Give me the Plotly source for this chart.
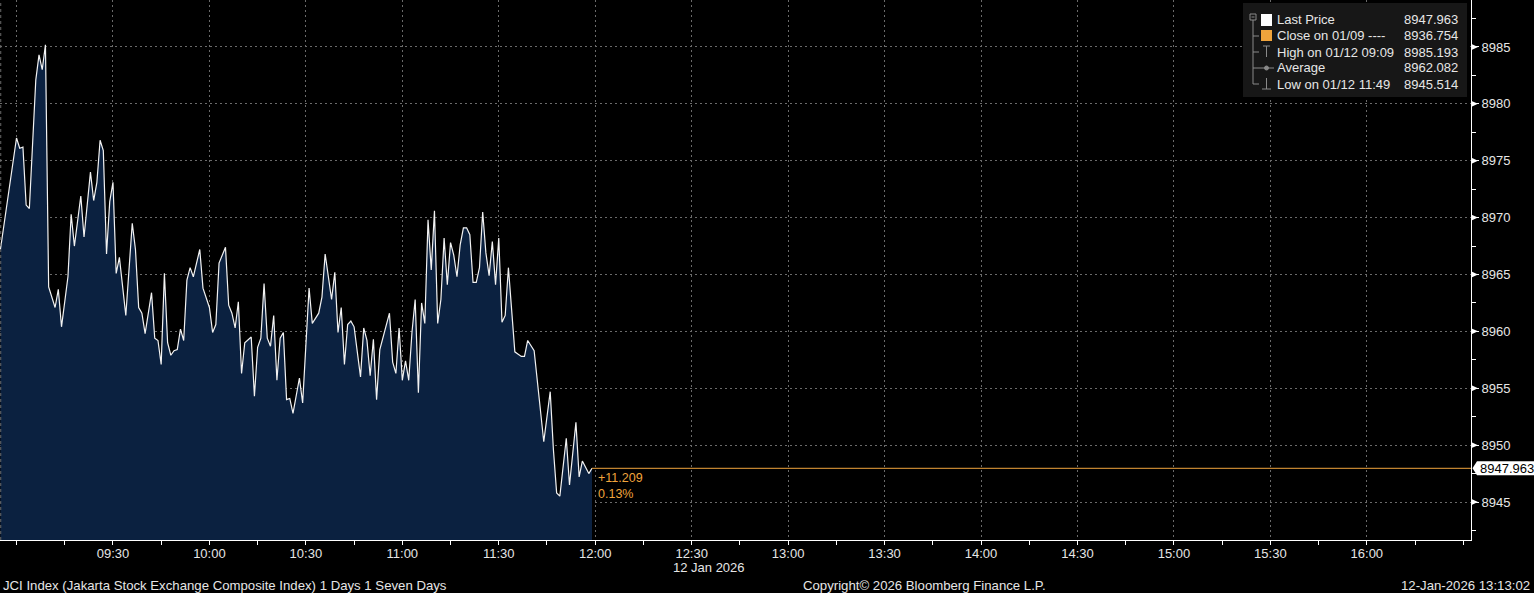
import plotly.graph_objects as go

# ---------------- data ----------------
times = ["08:55", "09:00", "09:01", "09:02", "09:03", "09:04", "09:06", "09:07", "09:08", "09:09",
         "09:10", "09:12", "09:13", "09:14", "09:16", "09:17", "09:18", "09:20", "09:21", "09:23",
         "09:24", "09:25", "09:26", "09:27", "09:28", "09:29", "09:30", "09:31", "09:32", "09:34",
         "09:36", "09:37", "09:38", "09:39", "09:40", "09:42", "09:43", "09:44", "09:45", "09:46",
         "09:47", "09:48", "09:49", "09:50", "09:51", "09:52", "09:53", "09:54", "09:55", "09:57",
         "09:58", "10:00", "10:01", "10:02", "10:03", "10:05", "10:06", "10:07", "10:08", "10:09",
         "10:10", "10:11", "10:13", "10:14", "10:15", "10:16", "10:17", "10:18", "10:19", "10:20",
         "10:21", "10:22", "10:23", "10:24", "10:25", "10:26", "10:28", "10:29", "10:31", "10:32",
         "10:34", "10:35", "10:36", "10:38", "10:39", "10:40", "10:41", "10:42", "10:43", "10:44",
         "10:45", "10:47", "10:48", "10:49", "10:50", "10:51", "10:52", "10:53", "10:56", "10:57",
         "10:58", "10:59", "11:00", "11:01", "11:02", "11:03", "11:04", "11:05", "11:06", "11:07",
         "11:08", "11:09", "11:10", "11:11", "11:12", "11:13", "11:14", "11:15", "11:16", "11:17",
         "11:18", "11:19", "11:20", "11:21", "11:22", "11:23", "11:24", "11:25", "11:26", "11:27",
         "11:28", "11:29", "11:30", "11:31", "11:32", "11:33", "11:35", "11:37", "11:38", "11:39",
         "11:41", "11:42", "11:44", "11:46", "11:47", "11:48", "11:49", "11:51", "11:52", "11:54",
         "11:55", "11:56", "11:58", "11:59"]
prices = [8967.2, 8977.0, 8976.1, 8976.2, 8971.1, 8970.8, 8982.1, 8984.3, 8983.0, 8985.193,
          8963.9, 8962.1, 8963.7, 8960.4, 8964.8, 8970.3, 8967.5, 8971.9, 8968.3, 8974.0,
          8971.5, 8973.1, 8976.8, 8975.9, 8966.8, 8971.4, 8973.1, 8965.1, 8966.5, 8961.4,
          8969.5, 8967.2, 8962.1, 8961.6, 8959.8, 8963.4, 8959.4, 8959.2, 8957.1, 8965.1,
          8959.0, 8957.9, 8958.3, 8958.4, 8960.2, 8959.2, 8964.5, 8965.6, 8964.8, 8967.2,
          8963.8, 8962.1, 8959.9, 8960.6, 8966.0, 8967.4, 8962.3, 8961.6, 8960.3, 8962.6,
          8956.3, 8959.0, 8959.5, 8954.3, 8958.6, 8959.4, 8964.2, 8959.4, 8958.7, 8961.4,
          8955.7, 8959.4, 8959.9, 8954.0, 8954.1, 8952.8, 8955.9, 8953.7, 8963.8, 8960.7,
          8961.6, 8963.0, 8966.8, 8962.8, 8965.2, 8959.9, 8962.1, 8957.1, 8960.6, 8960.9,
          8960.4, 8956.0, 8960.3, 8959.2, 8956.1, 8959.3, 8954.0, 8958.4, 8961.6, 8957.3,
          8956.3, 8960.3, 8955.7, 8957.4, 8955.7, 8959.9, 8962.8, 8954.6, 8962.5, 8960.7,
          8969.8, 8965.4, 8970.6, 8960.7, 8962.8, 8968.2, 8964.1, 8967.8, 8966.7, 8964.8,
          8967.6, 8969.1, 8969.1, 8968.5, 8964.3, 8964.3, 8965.6, 8970.5, 8966.9, 8964.9,
          8967.9, 8964.1, 8968.2, 8960.8, 8961.4, 8965.6, 8958.2, 8957.8, 8957.8, 8959.2,
          8958.3, 8955.5, 8950.3, 8954.7, 8949.6, 8945.8, 8945.514, 8950.6, 8946.5, 8952.0,
          8947.2, 8948.6, 8947.5, 8947.963]

prev_close = 8936.754
last_price = 8947.963
high_price = 8985.193
avg_price = 8962.082
low_price = 8945.514

y_tick_values = [8945, 8950, 8955, 8960, 8965, 8970, 8975, 8980, 8985]
x_tick_times = ["09:00", "09:30", "10:00", "10:30", "11:00", "11:30", "12:00", "12:30",
                "13:00", "13:30", "14:00", "14:30", "15:00", "15:30", "16:00"]
x_tick_labels = ["", "09:30", "10:00", "10:30", "11:00", "11:30", "12:00", "12:30",
                 "13:00", "13:30", "14:00", "14:30", "15:00", "15:30", "16:00"]

legend_labels = ["Last Price", "Close on 01/09 ----", "High on 01/12 09:09", "Average", "Low on 01/12 11:49"]
legend_values = [last_price, prev_close, high_price, avg_price, low_price]

day = "2026-01-12"
title_text = "JCI Index (Jakarta Stock Exchange Composite Index) 1 Days 1 Seven Days"
copyright_text = "Copyright\u00a9 2026 Bloomberg Finance L.P."
stamp_text = "12-Jan-2026 13:13:02"
date_label = "12 Jan 2026"

# ---------------- geometry / style ----------------
W, H = 1534, 593
ML, MR, MT, MB = 0, 63, 0, 53
PW, PH = W - ML - MR, H - MT - MB
FONT = "Liberation Sans"
TXT = "#e6e6e6"
ORANGE = "#f0a43c"
GRID = "#6a6a6a"
FILL = "#0b2140"

x_range = [f"{day} 08:54:52", f"{day} 16:32:24"]
y_range = [8941.66, 8989.13]


def px(x):
    return (x - ML) / PW


def py(y):
    return 1 - (y - MT) / PH


xs = [f"{day} {t}" for t in times]

fig = go.Figure()
fig.add_trace(go.Scatter(
    x=xs, y=prices, mode="lines",
    line=dict(color="#f2f2f2", width=1.2),
    fill="tozeroy", fillcolor=FILL,
    hoverinfo="skip", showlegend=False,
))

shapes = []
annotations = []

# y-axis triangle tick markers
y_span = y_range[1] - y_range[0]
half = 3.2 * y_span / PH
for v in y_tick_values:
    shapes.append(dict(type="path", xref="paper", yref="y",
                       path=f"M 1,{v + half} L {1 + 7 / PW},{v} L 1,{v - half} Z",
                       fillcolor="#ffffff", line=dict(width=0)))

# left dashed border line
shapes.append(dict(type="line", xref="paper", yref="paper", x0=0.0005, x1=0.0005, y0=0, y1=1,
                   line=dict(color=GRID, width=1, dash="3px,3px")))

# last price orange line
shapes.append(dict(type="line", xref="x", yref="y", x0=xs[-1], x1=x_range[1],
                   y0=last_price, y1=last_price, line=dict(color=ORANGE, width=1)))

# last price tag on right axis
shapes.append(dict(type="path", xref="paper", yref="y",
                   path=(f"M {1 + 1.5 / PW},{last_price} L {1 + 6 / PW},{last_price + 7 * y_span / PH} "
                         f"L {1 + 70 / PW},{last_price + 7 * y_span / PH} L {1 + 70 / PW},{last_price - 7 * y_span / PH} "
                         f"L {1 + 6 / PW},{last_price - 7 * y_span / PH} Z"),
                   fillcolor="#ffffff", line=dict(width=0)))
annotations.append(dict(xref="paper", yref="y", x=px(1478), y=last_price, xanchor="left", yanchor="middle",
                        text=f"{last_price:.3f}", showarrow=False,
                        font=dict(family=FONT, size=13, color="#000000")))

# change annotation
chg = last_price - prev_close
pct = chg / prev_close * 100
annotations.append(dict(xref="x", yref="y", x=xs[-1], y=last_price, xanchor="left", yanchor="top",
                        xshift=4, yshift=-1, align="left",
                        text=f"{chg:+.3f}<br>{pct:.2f}%", showarrow=False,
                        font=dict(family=FONT, size=12.5, color=ORANGE)))

# legend box
shapes.append(dict(type="rect", xref="paper", yref="paper", x0=px(1243), x1=px(1467), y0=py(97), y1=py(3),
                   fillcolor="#171717", line=dict(width=0)))
rows = [20, 36, 52, 68, 84]
ICON = "#8a8a8a"
# tree line
shapes.append(dict(type="rect", xref="paper", yref="paper", x0=px(1250), x1=px(1256), y0=py(20), y1=py(14),
                   line=dict(color=ICON, width=1), fillcolor="rgba(0,0,0,0)"))
shapes.append(dict(type="line", xref="paper", yref="paper", x0=px(1251.5), x1=px(1254.5), y0=py(17), y1=py(17),
                   line=dict(color=ICON, width=1)))
shapes.append(dict(type="line", xref="paper", yref="paper", x0=px(1253), x1=px(1253), y0=py(20), y1=py(rows[4]),
                   line=dict(color=ICON, width=1)))
for r in rows[1:]:
    shapes.append(dict(type="line", xref="paper", yref="paper", x0=px(1253), x1=px(1259), y0=py(r), y1=py(r),
                       line=dict(color=ICON, width=1)))
# icons
shapes.append(dict(type="rect", xref="paper", yref="paper", x0=px(1261), x1=px(1272), y0=py(26), y1=py(14),
                   fillcolor="#ffffff", line=dict(width=0)))
shapes.append(dict(type="rect", xref="paper", yref="paper", x0=px(1261), x1=px(1272), y0=py(41), y1=py(30),
                   fillcolor=ORANGE, line=dict(width=0)))
# high icon (T)
shapes.append(dict(type="line", xref="paper", yref="paper", x0=px(1263), x1=px(1270), y0=py(46), y1=py(46),
                   line=dict(color=ICON, width=1)))
shapes.append(dict(type="line", xref="paper", yref="paper", x0=px(1266.5), x1=px(1266.5), y0=py(46), y1=py(57),
                   line=dict(color=ICON, width=1)))
# average icon
shapes.append(dict(type="line", xref="paper", yref="paper", x0=px(1259), x1=px(1274), y0=py(68), y1=py(68),
                   line=dict(color=ICON, width=1)))
shapes.append(dict(type="circle", xref="paper", yref="paper", x0=px(1264.5), x1=px(1268.5), y0=py(70), y1=py(66),
                   line=dict(color=ICON, width=1), fillcolor=ICON))
# low icon
shapes.append(dict(type="line", xref="paper", yref="paper", x0=px(1266.5), x1=px(1266.5), y0=py(78), y1=py(89),
                   line=dict(color=ICON, width=1)))
shapes.append(dict(type="line", xref="paper", yref="paper", x0=px(1262), x1=px(1271), y0=py(89), y1=py(89),
                   line=dict(color=ICON, width=1)))

for lab, val, r in zip(legend_labels, legend_values, rows):
    annotations.append(dict(xref="paper", yref="paper", x=px(1275), y=py(r), xanchor="left", yanchor="middle",
                            text=lab, showarrow=False, font=dict(family=FONT, size=13, color=TXT)))
    annotations.append(dict(xref="paper", yref="paper", x=px(1460), y=py(r), xanchor="right", yanchor="middle",
                            text=f"{val:.3f}", showarrow=False, font=dict(family=FONT, size=13, color=TXT)))

# date label under axis
annotations.append(dict(xref="paper", yref="paper", x=px(709), y=py(567), xanchor="center", yanchor="middle",
                        text=date_label, showarrow=False, font=dict(family=FONT, size=13, color=TXT)))
# footer
annotations.append(dict(xref="paper", yref="paper", x=px(1), y=py(585), xanchor="left", yanchor="middle",
                        text=title_text, showarrow=False, font=dict(family=FONT, size=13.2, color=TXT)))
annotations.append(dict(xref="paper", yref="paper", x=px(924), y=py(585), xanchor="center", yanchor="middle",
                        text=copyright_text, showarrow=False, font=dict(family=FONT, size=13.2, color=TXT)))
annotations.append(dict(xref="paper", yref="paper", x=px(1532), y=py(585), xanchor="right", yanchor="middle",
                        text=stamp_text, showarrow=False, font=dict(family=FONT, size=13.2, color=TXT)))

fig.update_layout(
    width=W, height=H,
    margin=dict(l=ML, r=MR, t=MT, b=MB, pad=0),
    paper_bgcolor="#000000", plot_bgcolor="#000000",
    showlegend=False,
    font=dict(family=FONT, size=13, color=TXT),
    shapes=shapes, annotations=annotations,
    xaxis=dict(
        type="date", range=x_range,
        tickmode="array",
        tickvals=[f"{day} {t}" for t in x_tick_times],
        ticktext=x_tick_labels,
        ticks="outside", ticklen=4, tickcolor="#ffffff", tickwidth=1,
        ticklabelstandoff=-3,
        showline=True, linecolor="#ffffff", linewidth=1,
        showgrid=True, gridcolor=GRID, griddash="2px,3px", gridwidth=1,
        zeroline=False,
        tickfont=dict(family=FONT, size=13, color=TXT),
        minor=dict(dtick=15 * 60 * 1000, tick0=f"{day} 09:00", ticks="outside", ticklen=4,
                   tickcolor="#ffffff", showgrid=False),
    ),
    yaxis=dict(
        side="right", range=y_range,
        tickmode="array", tickvals=y_tick_values,
        ticks="outside", ticklen=7, tickcolor="#ffffff", tickwidth=1,
        showline=True, linecolor="#ffffff", linewidth=1,
        showgrid=True, gridcolor=GRID, griddash="2px,3px", gridwidth=1,
        zeroline=False,
        tickfont=dict(family=FONT, size=13, color=TXT),
        minor=dict(dtick=2.5, tick0=8945, ticks="outside", ticklen=4, tickcolor="#ffffff", showgrid=False),
    ),
)

fig.write_html("out.html", config={"displayModeBar": False},
               post_script="document.body.style.margin='0';document.body.style.background='#000';")
